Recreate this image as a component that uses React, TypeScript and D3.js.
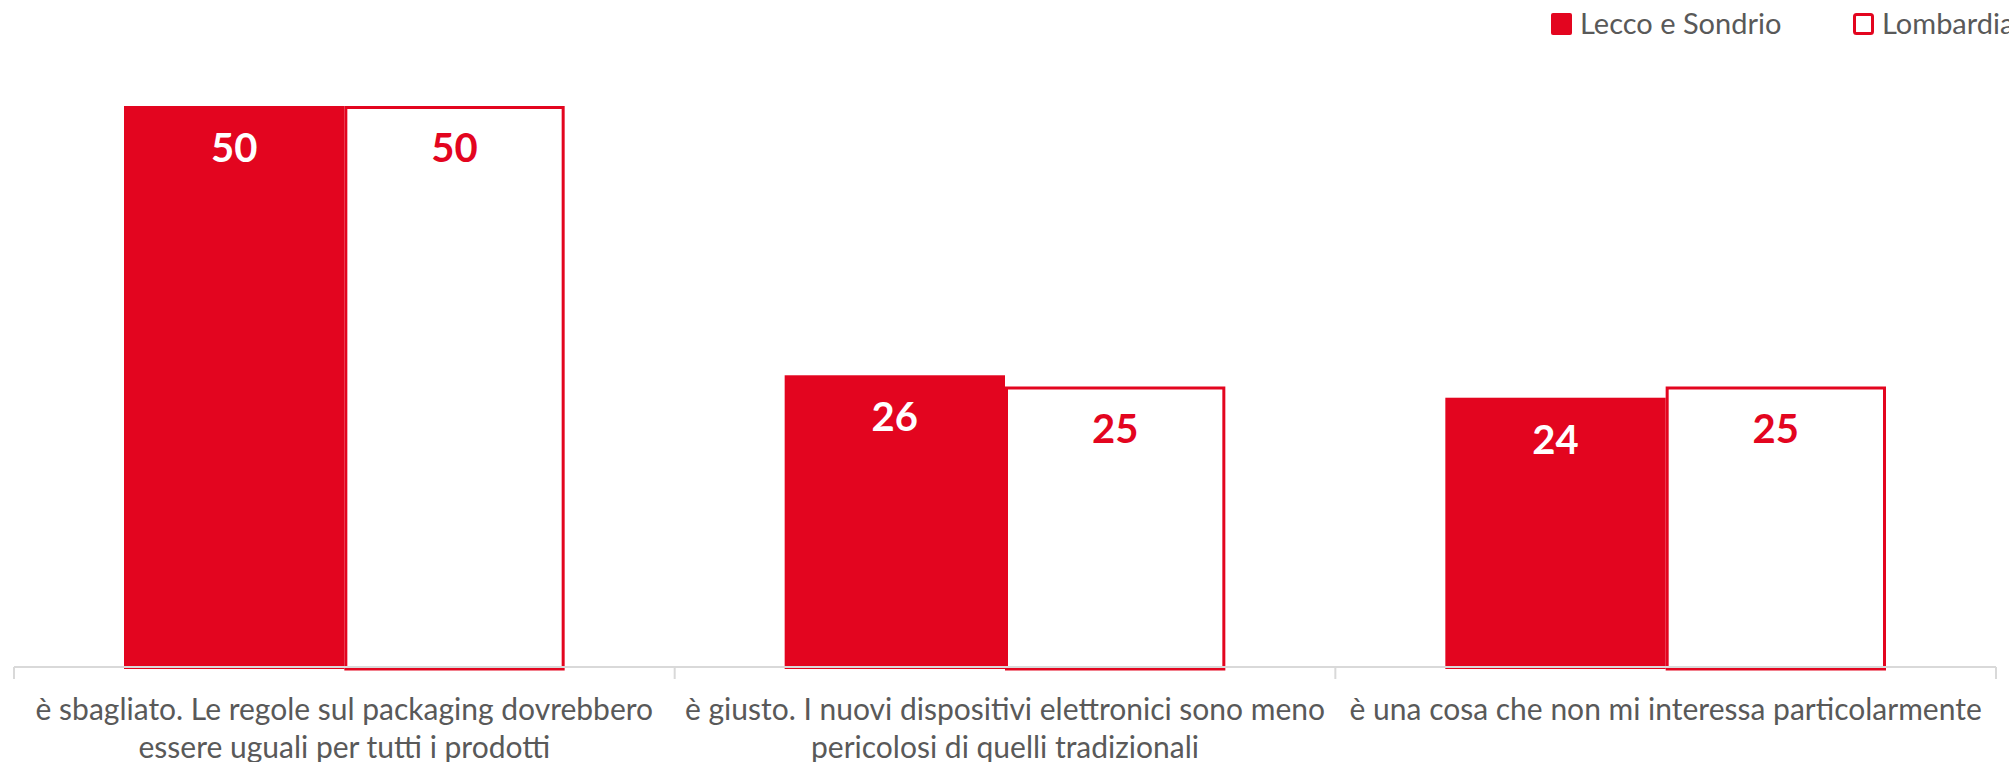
import React from "react";
import * as d3 from "d3";

const categories: string[][] = [
  ["è sbagliato. Le regole sul packaging dovrebbero", "essere uguali per tutti i prodotti"],
  ["è giusto. I nuovi dispositivi elettronici sono meno", "pericolosi di quelli tradizionali"],
  ["è una cosa che non mi interessa particolarmente"],
];
const seriesNames = ["Lecco e Sondrio", "Lombardia"];
const leccoValues = [50, 26, 24];
const lombardiaValues = [50, 25, 25];

const W = 2009;
const H = 762;
const RED = "#E3051F";
const GRAY_TEXT = "#595959";
const AXIS = "#D9D9D9";

export default function App() {
  const x = d3.scaleBand<number>().domain([0, 1, 2]).range([14, 1996]).paddingInner(0).paddingOuter(0);
  const groupW = x.bandwidth() * 0.667;
  const inner = d3.scaleBand<number>().domain([0, 1]).range([0, groupW]);
  const y = d3.scaleLinear().domain([0, 50]).range([667, 106]);
  const series = [leccoValues, lombardiaValues];
  const ticks = [...x.domain().map((d) => x(d)!), 1996];

  return (
    <svg width={W} height={H} style={{ position: "absolute", left: 0, top: 0, background: "#fff" }}>
      {/* bars */}
      {categories.map((_, i) => {
        const gx = x(i)! + (x.bandwidth() - groupW) / 2;
        return (
          <g key={i} transform={`translate(${gx},0)`}>
            {series.map((vals, s) => {
              const bx = inner(s)!;
              const bw = inner.bandwidth();
              const top = y(vals[i]);
              const bottom = y(0) + 2;
              if (s === 0) {
                return (
                  <g key={s}>
                    <rect x={bx} y={top} width={bw} height={bottom - top} fill={RED} />
                    <text x={bx + bw / 2} y={top + 56} textAnchor="middle" fontFamily="Lato" fontWeight={700} fontSize={40} fill="#fff">
                      {vals[i]}
                    </text>
                  </g>
                );
              }
              return (
                <g key={s}>
                  <rect x={bx + 1.5} y={top + 1.5} width={bw - 3} height={bottom - top - 1.5} fill="#fff" stroke={RED} strokeWidth={3} />
                  <text x={bx + bw / 2} y={top + 56} textAnchor="middle" fontFamily="Lato" fontWeight={700} fontSize={40} fill={RED}>
                    {vals[i]}
                  </text>
                </g>
              );
            })}
          </g>
        );
      })}
      {/* axis */}
      <line x1={14} x2={1996} y1={y(0)} y2={y(0)} stroke={AXIS} strokeWidth={2} />
      {ticks.map((t, i) => (
        <line key={i} x1={t} x2={t} y1={y(0)} y2={y(0) + 12} stroke={AXIS} strokeWidth={2} />
      ))}
      {/* category labels */}
      {categories.map((lines, i) => (
        <text key={i} textAnchor="middle" fontFamily="Lato" fontSize={30} fill={GRAY_TEXT}>
          {lines.map((l, j) => (
            <tspan key={j} x={x(i)! + x.bandwidth() / 2} y={720 + j * 38}>
              {l}
            </tspan>
          ))}
        </text>
      ))}
      {/* legend */}
      <rect x={1551} y={13} width={21} height={22} rx={2} fill={RED} />
      <text x={1580} y={34} fontFamily="Lato" fontSize={29} fill={GRAY_TEXT}>{seriesNames[0]}</text>
      <rect x={1854.5} y={14.5} width={18} height={19} rx={2} fill="#fff" stroke={RED} strokeWidth={3} />
      <text x={1882} y={34} fontFamily="Lato" fontSize={29} fill={GRAY_TEXT}>{seriesNames[1]}</text>
    </svg>
  );
}
